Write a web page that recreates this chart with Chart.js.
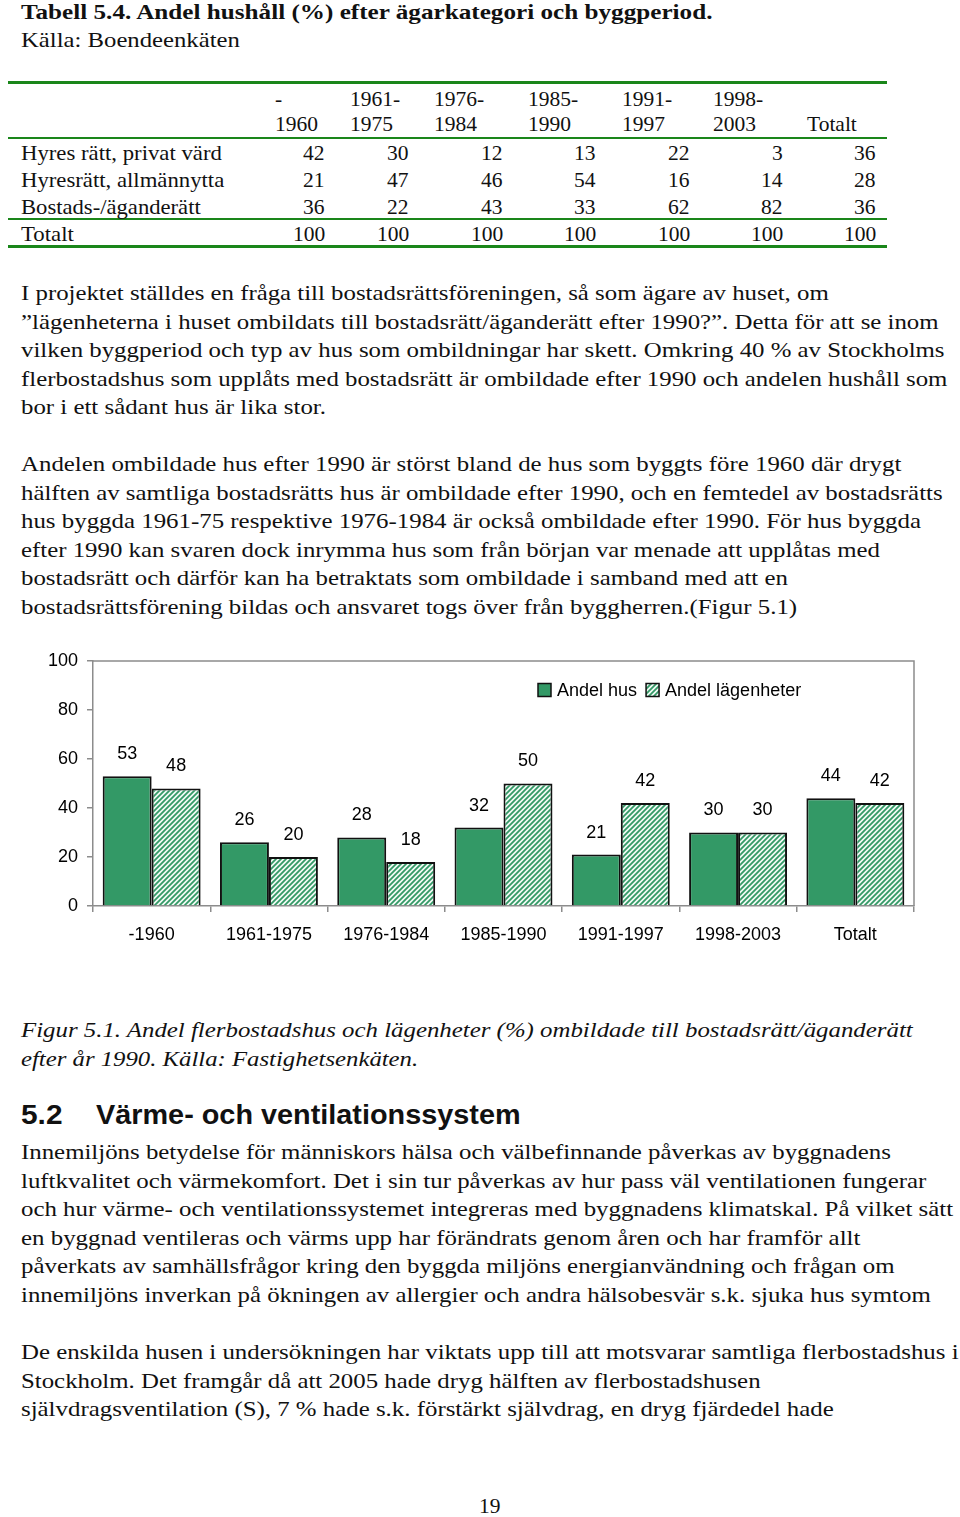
<!DOCTYPE html>
<html lang="sv">
<head>
<meta charset="UTF-8">
<title>Tabell 5.4 och Figur 5.1</title>
<script src="https://cdn.jsdelivr.net/npm/chart.js@4"></script>
<style>
  html, body { margin: 0; padding: 0; background: #fff; }
  body { width: 960px; height: 1517px; position: relative; overflow: hidden; color: #111; }
  .ln { position: absolute; white-space: nowrap; line-height: 1; transform-origin: 0 50%; }
  .rule { position: absolute; left: 8px; width: 879px; background: #1a861a; }
  #chartBox { position: absolute; left: 0; top: 640px; width: 960px; height: 320px; }
</style>
</head>
<body>
<div class="rule" style="top:81px;height:3px"></div>
<div class="rule" style="top:137px;height:2px"></div>
<div class="rule" style="top:218px;height:2px"></div>
<div class="rule" style="top:245px;height:3px"></div>
<div id="chartBox"><canvas id="chart" width="960" height="320"></canvas></div>
<script>
// chart data (Figur 5.1)
const categories = ['-1960', '1961-1975', '1976-1984', '1985-1990', '1991-1997', '1998-2003', 'Totalt'];
const andelHus = [53, 26, 28, 32, 21, 30, 44];
const andelLagenheter = [48, 20, 18, 50, 42, 30, 42];
const yTicks = [0, 20, 40, 60, 80, 100];

// table data (Tabell 5.4)
const headTop = ['-', '1961-', '1976-', '1985-', '1991-', '1998-', ''];
const headBottom = ['1960', '1975', '1984', '1990', '1997', '2003', 'Totalt'];
const rowLabels = ['Hyres rätt, privat värd', 'Hyresrätt, allmännytta', 'Bostads-/äganderätt', 'Totalt'];
const privatVard = [42, 30, 12, 13, 22, 3, 36];
const allmannytta = [21, 47, 46, 54, 16, 14, 28];
const bostadsratt = [36, 22, 43, 33, 62, 82, 36];
const totaltRow = [100, 100, 100, 100, 100, 100, 100];

const GREEN = '#339966';

// pick the first installed font of a list (width test against monospace)
function pickFont(list, fallback) {
  const c = document.createElement('canvas').getContext('2d');
  const probe = 'abcdefghijklmnopqrstuvwxyzÅÄÖ 0123456789';
  c.font = '40px monospace';
  const base = c.measureText(probe).width;
  for (const f of list) {
    c.font = '40px "' + f + '", monospace';
    if (Math.abs(c.measureText(probe).width - base) > 0.5) return '"' + f + '", ' + fallback;
  }
  return fallback;
}
const SERIF = pickFont(['Liberation Serif', 'Times New Roman', 'Tinos', 'Nimbus Roman', 'Nimbus Roman No9 L', 'FreeSerif', 'Times'], 'serif');
const SANS = pickFont(['Liberation Sans', 'Arial', 'Arimo', 'Helvetica'], 'sans-serif');

// place one line of text; w = width to fit, right = right edge
function put(text, x, cy, o) {
  o = o || {};
  const el = document.createElement('div');
  el.className = 'ln';
  el.textContent = text;
  el.style.font = o.font || ('21.5px ' + SERIF);
  document.body.appendChild(el);
  const w = el.offsetWidth;
  let k = 1;
  if (o.w) k = o.w / w;
  let left = x;
  if (o.right) left = o.right - w;
  if (o.center) left = x - w / 2;
  el.style.left = left + 'px';
  el.style.top = cy + 'px';
  el.style.transform = 'translateY(-50%) scaleX(' + k.toFixed(4) + ')';
  return el;
}

// heading of table
put('Tabell 5.4.  Andel hushåll (%) efter ägarkategori och byggperiod.', 21, 12, { font: 'bold 22px ' + SERIF, w: 691 });
put('Källa: Boendeenkäten', 21, 40, { font: '22px ' + SERIF, w: 219 });

const headLeft = [275, 350, 434, 528, 622, 713, 807];
const colRight = [325, 409, 503, 596, 690, 783, 876];
headTop.forEach((t, i) => { if (t) put(t, headLeft[i], 98.5); });
headBottom.forEach((t, i) => put(t, headLeft[i], 124));

const rowY = [152.5, 179.5, 206.5, 233.5];
const rowW = [201, 203, 180, 53];
[privatVard, allmannytta, bostadsratt, totaltRow].forEach((row, r) => {
  put(rowLabels[r], 21, rowY[r], { w: rowW[r] });
  row.forEach((v, i) => put(String(v), 0, rowY[r], { right: colRight[i] }));
});

// body text
const paragraphs = [
  { y: 293, lines: [
    ['I projektet ställdes en fråga till bostadsrättsföreningen, så som ägare av huset, om', 829],
    ['\u201dlägenheterna i huset ombildats till bostadsrätt/äganderätt efter 1990?\u201d. Detta för att se inom', 939],
    ['vilken byggperiod och typ av hus som ombildningar har skett. Omkring 40 % av Stockholms', 945],
    ['flerbostadshus som upplåts med bostadsrätt är ombildade efter 1990 och andelen hushåll som', 948],
    ['bor i ett sådant hus är lika stor.', 326]] },
  { y: 464, lines: [
    ['Andelen ombildade hus efter 1990 är störst bland de hus som byggts före 1960 där drygt', 901],
    ['hälften av samtliga bostadsrätts hus är ombildade efter 1990, och en femtedel av bostadsrätts', 943],
    ['hus byggda 1961-75 respektive 1976-1984 är också ombildade efter 1990. För hus byggda', 921],
    ['efter 1990 kan svaren dock inrymma hus som från början var menade att upplåtas med', 880],
    ['bostadsrätt och därför kan ha betraktats som ombildade i samband med att en', 788],
    ['bostadsrättsförening bildas och ansvaret togs över från byggherren.(Figur 5.1)', 797]] },
  { y: 1030, italic: true, lines: [
    ['Figur 5.1. Andel flerbostadshus och lägenheter (%) ombildade till bostadsrätt/äganderätt', 913],
    ['efter år 1990. Källa: Fastighetsenkäten.', 418]] },
  { y: 1152, lines: [
    ['Innemiljöns betydelse för människors hälsa och välbefinnande påverkas av byggnadens', 891],
    ['luftkvalitet och värmekomfort. Det i sin tur påverkas av hur pass väl ventilationen fungerar', 926],
    ['och hur värme- och ventilationssystemet integreras med byggnadens klimatskal. På vilket sätt', 953],
    ['en byggnad ventileras och värms upp har förändrats genom åren och har framför allt', 860],
    ['påverkats av samhällsfrågor kring den byggda miljöns energianvändning och frågan om', 894],
    ['innemiljöns inverkan på ökningen av allergier och andra hälsobesvär s.k. sjuka hus symtom', 931]] },
  { y: 1352, lines: [
    ['De enskilda husen i undersökningen har viktats upp till att motsvarar samtliga flerbostadshus i', 958],
    ['Stockholm. Det framgår då att 2005 hade dryg hälften av flerbostadshusen', 761],
    ['självdragsventilation (S), 7 % hade s.k. förstärkt självdrag, en dryg fjärdedel hade', 834]] }
];
paragraphs.forEach(p => {
  p.lines.forEach(([txt, right], i) => {
    put(txt, 21, p.y + i * 28.6, { w: right - 21, font: (p.italic ? 'italic ' : '') + '21.5px ' + SERIF });
  });
});

put('5.2', 21, 1115, { font: 'bold 27px ' + SANS, w: 42 });
put('Värme- och ventilationssystem', 96, 1115, { font: 'bold 27px ' + SANS, w: 425 });
put('19', 490, 1506, { center: true });

// ---- chart ----
const canvas = document.getElementById('chart');
const ctx = canvas.getContext('2d');

function makeHatch() {
  const s = 5;
  const c = document.createElement('canvas');
  c.width = s; c.height = s;
  const g = c.getContext('2d');
  g.fillStyle = '#f2faf5';
  g.fillRect(0, 0, s, s);
  g.strokeStyle = GREEN;
  g.lineWidth = 1.8;
  g.beginPath();
  g.moveTo(0, s); g.lineTo(s, 0);
  g.moveTo(-1, 1); g.lineTo(1, -1);
  g.moveTo(s - 1, s + 1); g.lineTo(s + 1, s - 1);
  g.stroke();
  return ctx.createPattern(c, 'repeat');
}
const hatch = makeHatch();

const frame = {
  id: 'frame',
  afterDraw(chart) {
    const a = chart.chartArea, c = chart.ctx;
    c.save();
    c.strokeStyle = '#8c8c8c';
    c.lineWidth = 1.5;
    c.beginPath();
    c.moveTo(a.left, a.top); c.lineTo(a.right, a.top); c.lineTo(a.right, a.bottom);
    c.stroke();
    c.restore();
  }
};

const valueLabels = {
  id: 'valueLabels',
  afterDatasetsDraw(chart) {
    const c = chart.ctx;
    c.save();
    c.font = '18px ' + SANS;
    c.fillStyle = '#000';
    c.textAlign = 'center';
    c.textBaseline = 'middle';
    chart.data.datasets.forEach((ds, di) => {
      chart.getDatasetMeta(di).data.forEach((bar, i) => {
        c.fillText(String(ds.data[i]), bar.x, bar.y - 22);
      });
    });
    c.restore();
  }
};

const legendBox = {
  id: 'legendBox',
  afterDraw(chart) {
    const c = chart.ctx;
    let x = 538;
    const cy = 50;
    c.save();
    c.font = '18px ' + SANS;
    c.textBaseline = 'middle';
    c.textAlign = 'left';
    chart.data.datasets.forEach(ds => {
      c.fillStyle = ds.backgroundColor;
      c.fillRect(x, cy - 6.5, 13, 13);
      c.strokeStyle = '#111';
      c.lineWidth = 1.5;
      c.strokeRect(x, cy - 6.5, 13, 13);
      c.fillStyle = '#000';
      c.fillText(ds.label, x + 19, cy + 1);
      x += 19 + c.measureText(ds.label).width + 9;
    });
    c.restore();
  }
};

new Chart(ctx, {
  type: 'bar',
  data: {
    labels: categories,
    datasets: [
      { label: 'Andel hus', data: andelHus, backgroundColor: GREEN, borderColor: '#111', borderWidth: 2 },
      { label: 'Andel lägenheter', data: andelLagenheter, backgroundColor: hatch, borderColor: '#111', borderWidth: 2 }
    ]
  },
  options: {
    responsive: false,
    animation: false,
    devicePixelRatio: 1,
    layout: { padding: { left: 0, right: 46, top: 21, bottom: 0 } },
    datasets: { bar: { categoryPercentage: 0.835, barPercentage: 1 } },
    plugins: { legend: { display: false }, tooltip: { enabled: false } },
    scales: {
      x: {
        grid: { offset: true, drawOnChartArea: false, drawTicks: true, tickLength: 6, color: '#8c8c8c', lineWidth: 1.5 },
        border: { color: '#8c8c8c', width: 1.5 },
        ticks: { font: { family: SANS, size: 18 }, color: '#000', padding: 12, maxRotation: 0, autoSkip: false },
        afterFit(s) { s.height = 54; }
      },
      y: {
        min: 0, max: 100,
        afterBuildTicks(s) { s.ticks = yTicks.map(v => ({ value: v })); },
        grid: { drawOnChartArea: false, drawTicks: true, tickLength: 6, color: '#8c8c8c', lineWidth: 1.5 },
        border: { color: '#8c8c8c', width: 1.5 },
        ticks: { font: { family: SANS, size: 18 }, color: '#000', padding: 9 },
        afterFit(s) { s.width = 93; }
      }
    }
  },
  plugins: [frame, valueLabels, legendBox]
});
</script>
</body>
</html>
